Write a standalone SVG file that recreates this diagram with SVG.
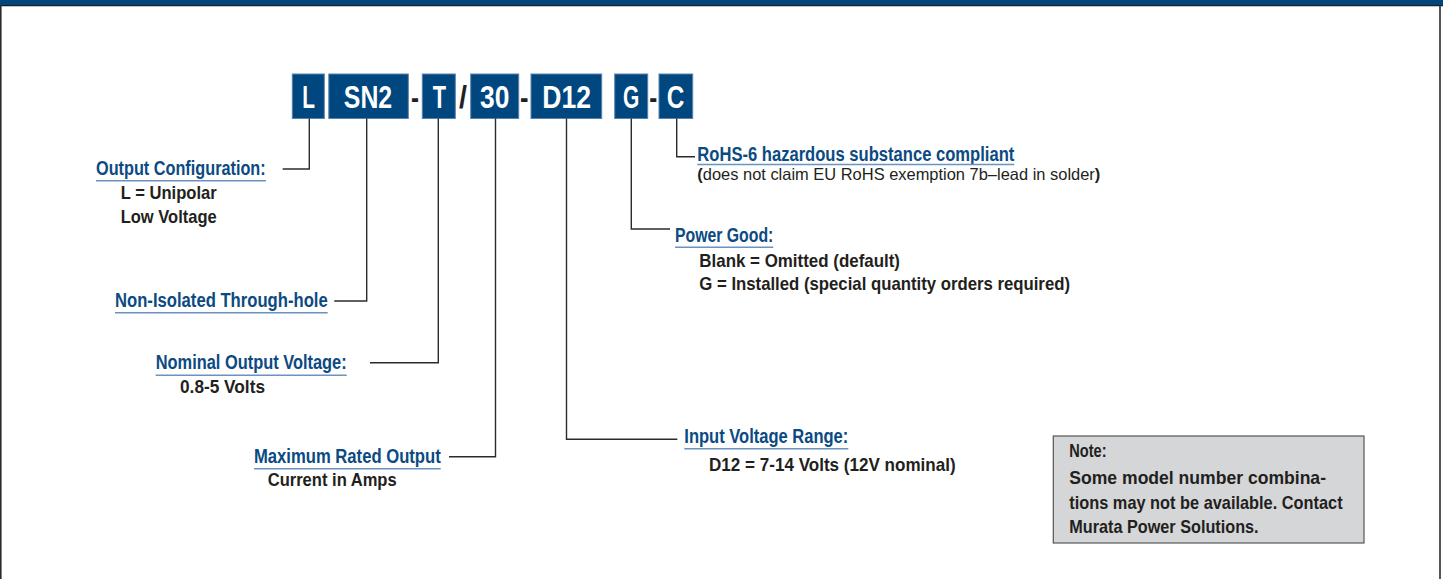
<svg xmlns="http://www.w3.org/2000/svg" width="1443" height="579" viewBox="0 0 1443 579">
<style>
.bx{fill:#00467f;stroke:#5b83ad;stroke-width:1}
.bt{font-family:"Liberation Sans",Arial,sans-serif;font-weight:bold;font-size:31px;fill:#ffffff;text-anchor:middle}
.sep{font-family:"Liberation Sans",Arial,sans-serif;font-weight:bold;font-size:31px;fill:#231f20;text-anchor:middle}
.h{font-family:"Liberation Sans",Arial,sans-serif;font-weight:bold;font-size:19.5px;fill:#0b4a82}
.b{font-family:"Liberation Sans",Arial,sans-serif;font-weight:bold;font-size:18.5px;fill:#231f20}
.r{font-family:"Liberation Sans",Arial,sans-serif;font-weight:normal;font-size:16.5px;fill:#231f20}
.ul{stroke:#6a93bf;stroke-width:1.5;fill:none}
.c{stroke:#2b2b2b;stroke-width:1.4;fill:none}
</style>
<g id="frame">
<rect x="0" y="0" width="1443" height="5" fill="#00457c"/>
<line x1="0" y1="5.6" x2="1443" y2="5.6" stroke="#1e1e1e" stroke-width="1.4"/>
<line x1="0.8" y1="5" x2="0.8" y2="579" stroke="#2b2b2b" stroke-width="1.6"/>
<line x1="1440" y1="5" x2="1440" y2="579" stroke="#2b2b2b" stroke-width="1.6"/>
</g>
<g id="code">
<g id="box-L"><rect class="bx" x="292.3" y="74" width="32" height="44.5"/><text class="bt" x="308.6" y="108" textLength="12.7" lengthAdjust="spacingAndGlyphs">L</text></g>
<g id="box-SN2"><rect class="bx" x="328.8" y="74" width="79.5" height="44.5"/><text class="bt" x="368" y="108" textLength="48.3" lengthAdjust="spacingAndGlyphs">SN2</text></g>
<text class="sep" x="415" y="108" textLength="8" lengthAdjust="spacingAndGlyphs">-</text>
<g id="box-T"><rect class="bx" x="422.3" y="74" width="33" height="44.5"/><text class="bt" x="439.3" y="108" textLength="13.3" lengthAdjust="spacingAndGlyphs">T</text></g>
<text class="sep" x="463" y="108" textLength="8" lengthAdjust="spacingAndGlyphs">/</text>
<g id="box-30"><rect class="bx" x="470.7" y="74" width="48" height="44.5"/><text class="bt" x="494.7" y="108" textLength="29.3" lengthAdjust="spacingAndGlyphs">30</text></g>
<text class="sep" x="524.3" y="108" textLength="8.5" lengthAdjust="spacingAndGlyphs">-</text>
<g id="box-D12"><rect class="bx" x="531" y="74" width="70.7" height="44.5"/><text class="bt" x="566.7" y="108" textLength="48.7" lengthAdjust="spacingAndGlyphs">D12</text></g>
<g id="box-G"><rect class="bx" x="614.7" y="74" width="33" height="44.5"/><text class="bt" x="631.2" y="108" textLength="16.3" lengthAdjust="spacingAndGlyphs">G</text></g>
<text class="sep" x="653.3" y="108" textLength="8" lengthAdjust="spacingAndGlyphs">-</text>
<g id="box-C"><rect class="bx" x="659" y="74" width="33.7" height="44.5"/><text class="bt" x="675.5" y="108" textLength="17.6" lengthAdjust="spacingAndGlyphs">C</text></g>
</g>
<g id="connectors">
<polyline class="c" points="309.3,118.5 309.3,169 282.7,169"/>
<polyline class="c" points="366.7,118.5 366.7,301 334.3,301"/>
<polyline class="c" points="438.3,118.5 438.3,362.7 370,362.7"/>
<polyline class="c" points="495.5,118.5 495.5,456.7 449,456.7"/>
<polyline class="c" points="566.5,118.5 566.5,439.3 677.3,439.3"/>
<polyline class="c" points="631.3,118.5 631.3,229 670,229"/>
<polyline class="c" points="676.7,118.5 676.7,156.7 695,156.7"/>
</g>
<g id="label-output-config">
<text class="h" x="96" y="175" textLength="169.7" lengthAdjust="spacingAndGlyphs">Output Configuration:</text>
<line class="ul" x1="96" y1="180.7" x2="266" y2="180.7"/>
<text class="b" x="120.7" y="199" textLength="96" lengthAdjust="spacingAndGlyphs">L = Unipolar</text>
<text class="b" x="120.7" y="222.7" textLength="96" lengthAdjust="spacingAndGlyphs">Low Voltage</text>
</g>
<g id="label-non-isolated">
<text class="h" x="115" y="306.7" textLength="212.7" lengthAdjust="spacingAndGlyphs">Non-Isolated Through-hole</text>
<line class="ul" x1="115" y1="312.7" x2="327.7" y2="312.7"/>
</g>
<g id="label-nominal-voltage">
<text class="h" x="155.7" y="369.3" textLength="191" lengthAdjust="spacingAndGlyphs">Nominal Output Voltage:</text>
<line class="ul" x1="155.7" y1="375.3" x2="346.7" y2="375.3"/>
<text class="b" x="180" y="393.3" textLength="85" lengthAdjust="spacingAndGlyphs">0.8-5 Volts</text>
</g>
<g id="label-max-output">
<text class="h" x="254" y="462.7" textLength="186.7" lengthAdjust="spacingAndGlyphs">Maximum Rated Output</text>
<line class="ul" x1="254" y1="468.7" x2="440.7" y2="468.7"/>
<text class="b" x="267.7" y="486" textLength="129" lengthAdjust="spacingAndGlyphs">Current in Amps</text>
</g>
<g id="label-rohs">
<text class="h" x="697.3" y="161" textLength="317" lengthAdjust="spacingAndGlyphs">RoHS-6 hazardous substance compliant</text>
<line class="ul" x1="697.3" y1="164.5" x2="1014.3" y2="164.5"/>
<text class="r" x="697.3" y="179.5" textLength="403" lengthAdjust="spacingAndGlyphs"><tspan font-weight="bold">(</tspan>does not claim EU RoHS exemption 7b–lead in solder<tspan font-weight="bold">)</tspan></text>
</g>
<g id="label-power-good">
<text class="h" x="675" y="242.3" textLength="98.3" lengthAdjust="spacingAndGlyphs">Power Good:</text>
<line class="ul" x1="675" y1="247.3" x2="773.3" y2="247.3"/>
<text class="b" x="699.3" y="266.7" textLength="200.7" lengthAdjust="spacingAndGlyphs">Blank = Omitted (default)</text>
<text class="b" x="699.3" y="290" textLength="370.7" lengthAdjust="spacingAndGlyphs">G = Installed (special quantity orders required)</text>
</g>
<g id="label-input-voltage">
<text class="h" x="684.3" y="442.7" textLength="164" lengthAdjust="spacingAndGlyphs">Input Voltage Range:</text>
<line class="ul" x1="684.3" y1="448.7" x2="848.3" y2="448.7"/>
<text class="b" x="709" y="470.7" textLength="246.7" lengthAdjust="spacingAndGlyphs">D12 = 7-14 Volts (12V nominal)</text>
</g>
<g id="note">
<rect x="1053.3" y="436" width="310.7" height="107" fill="#d5d6d8" stroke="#555555" stroke-width="1.2"/>
<text class="b" x="1069.3" y="457.3" textLength="37.3" lengthAdjust="spacingAndGlyphs">Note:</text>
<text class="b" x="1069.3" y="484" textLength="256.7" lengthAdjust="spacingAndGlyphs">Some model number combina-</text>
<text class="b" x="1069.3" y="509.3" textLength="273.3" lengthAdjust="spacingAndGlyphs">tions may not be available. Contact</text>
<text class="b" x="1069.3" y="532.7" textLength="189.3" lengthAdjust="spacingAndGlyphs">Murata Power Solutions.</text>
</g>
</svg>
